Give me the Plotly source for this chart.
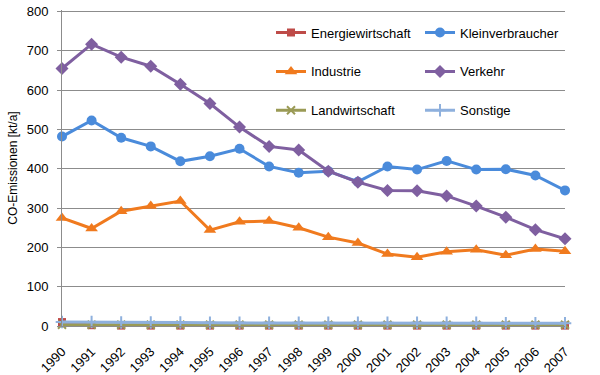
import plotly.graph_objects as go

years = list(range(1990, 2008))
energiewirtschaft = [10, 2, 1, 1, 1, 1, 1, 1, 1, 1, 1, 1, 1, 1, 1, 1, 1, 1]
kleinverbraucher = [482, 523, 479, 457, 419, 432, 451, 406, 390, 394, 367, 406, 398, 420, 398, 399, 383, 345]
industrie = [275, 248, 292, 305, 318, 244, 265, 267, 250, 226, 211, 183, 175, 189, 194, 180, 196, 190]
verkehr = [655, 717, 684, 661, 615, 566, 506, 457, 448, 394, 366, 345, 344, 331, 305, 277, 245, 222]
landwirtschaft = [3, 3, 3, 3, 3, 3, 3, 3, 3, 3, 3, 3, 3, 3, 3, 3, 3, 3]
sonstige = [10, 10, 9, 9, 9, 8, 8, 8, 8, 8, 8, 8, 8, 8, 8, 7, 7, 7]
y_ticks = [0, 100, 200, 300, 400, 500, 600, 700, 800]

series = [
    ("Energiewirtschaft", energiewirtschaft, "#BE4B48", "square", 8, "legend"),
    ("Kleinverbraucher", kleinverbraucher, "#4A8BDB", "circle", 10, "legend2"),
    ("Industrie", industrie, "#F07A1E", "triangle-up", 11, "legend"),
    ("Verkehr", verkehr, "#7F5FA0", "diamond", 10, "legend2"),
    ("Landwirtschaft", landwirtschaft, "#9A9A55", "x-thin", 8, "legend"),
    ("Sonstige", sonstige, "#8EB0DD", "cross-thin", 9, "legend2"),
]

fig = go.Figure()
for name, vals, col, sym, size, leg in series:
    marker = dict(symbol=sym, size=size, color=col)
    if sym.endswith("thin"):
        marker["line"] = dict(color=col, width=2)
    fig.add_trace(go.Scatter(
        x=years, y=vals, name=name, mode="lines+markers",
        line=dict(color=col, width=3), marker=marker,
        cliponaxis=False, legend=leg, legendgroup=name,
    ))

legend_common = dict(
    orientation="v", traceorder="grouped", tracegroupgap=19,
    font=dict(family="Liberation Sans, Arial", size=13, color="black"),
    bgcolor="rgba(0,0,0,0)", xanchor="left", yanchor="top",
)
YMAX = 804  # small headroom so the 800 gridline is drawn
W, H = 600, 375
PL, PW = 62, 503
PH = 314.5 * YMAX / 800
PT = 12 - (PH - 314.5)
fig.update_layout(
    width=W, height=H,
    margin=dict(l=PL, r=W - PL - PW, t=PT, b=H - PT - PH, autoexpand=False),
    paper_bgcolor="white", plot_bgcolor="white",
    font=dict(family="Liberation Sans, Arial", size=13, color="black"),
    legend=dict(x=(271 - PL) / PW, y=1 - (18 - PT) / PH, **legend_common),
    legend2=dict(x=(420 - PL) / PW, y=1 - (18 - PT) / PH, **legend_common),
    xaxis=dict(
        range=[1990, 2007], tickvals=years, ticktext=[str(y) for y in years],
        tickangle=-45, showgrid=False, zeroline=False, automargin=False,
        showline=True, linecolor="#8C8C8C", linewidth=1,
        ticks="", ticklabelstandoff=12,
        tickfont=dict(size=13),
    ),
    yaxis=dict(
        range=[0, YMAX], tickvals=y_ticks,
        showgrid=True, gridcolor="#8C8C8C", gridwidth=1,
        zeroline=False, showline=True, linecolor="#8C8C8C", linewidth=1,
        ticks="outside", ticklen=4, tickcolor="#8C8C8C", automargin=False,
        ticklabelstandoff=6,
        title=dict(text="CO-Emissionen [kt/a]", font=dict(size=12), standoff=6),
        tickfont=dict(size=13),
    ),
)

fig.write_html("out.html", config={"displayModeBar": False},
               post_script="document.body.style.margin='0';")
